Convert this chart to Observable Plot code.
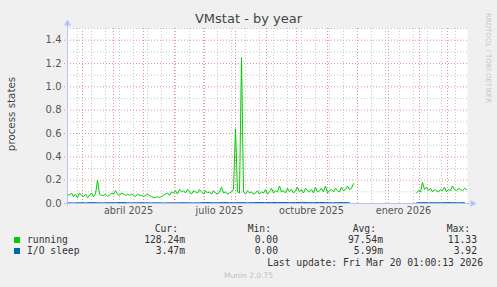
<!DOCTYPE html>
<html><head><meta charset="utf-8">
<script src="https://cdn.jsdelivr.net/npm/d3@7"></script>
<script src="https://cdn.jsdelivr.net/npm/@observablehq/plot@0.6"></script>
<style>
body{margin:0;background:#f0f0f0;}
#wrap{position:relative;width:497px;height:287px;overflow:hidden;background:#f0f0f0;font-family:"DejaVu Sans",sans-serif;}
#wrap svg{position:absolute;left:0;top:0;}
.t{position:absolute;white-space:pre;line-height:1;}
.mono{font-family:"DejaVu Sans Mono",monospace;font-size:9.7px;color:#333;}
</style></head><body><div id="wrap"></div>
<script>
// ---- data ----
const title = "VMstat - by year";
const yLabel = "process states";
const domainStart = "2025-02-14", domainEnd = "2026-03-21";
const yTicks = [0, 0.2, 0.4, 0.6, 0.8, 1.0, 1.2, 1.4];
const monthLabels = ["abril 2025", "julio 2025", "octubre 2025", "enero 2026"];
const monthLabelDates = ["2025-04-16", "2025-07-16", "2025-10-16", "2026-01-16"];

// running, segment 1: from 2025-02-14, one value every 2 days
const running1Start = "2025-02-14";
const running1 = [
 0.08,0.07,0.09,0.06,0.08,0.05,0.09,0.07,0.06,0.08,0.05,0.07,0.09,0.06,0.08,
 0.20,
 0.08,0.07,0.07,0.08,0.06,0.07,0.09,0.08,0.11,0.08,0.07,0.09,0.08,0.07,0.08,
 0.07,0.08,0.07,0.06,0.08,0.07,0.07,0.06,0.07,0.08,0.07,0.06,
 0.05,0.05,0.06,0.05,0.06,0.07,
 0.08,0.09,0.07,0.10,0.09,0.11,0.08,
 0.12,0.10,0.11,0.09,0.12,0.10,0.08,0.11,0.10,0.09,0.12,0.10,0.08,0.11,0.09,0.10,0.08,0.11,0.09,0.08,0.10,0.14,0.09,0.10,0.08,0.09,0.10,0.12,
 0.64,
 0.10,0.09,
 1.25,
 0.10,0.08,0.11,0.09,0.10,0.08,0.09,0.11,0.08,0.10,
 0.09,0.12,0.08,0.10,0.13,0.09,0.11,0.10,0.15,0.10,
 0.11,0.09,0.13,0.10,0.12,0.09,0.11,0.14,0.10,0.12,
 0.09,0.13,0.11,0.10,0.12,0.09,0.14,0.10,0.11,0.13,
 0.10,0.15,0.09,0.11,0.12,0.10,0.13,0.11,0.10,0.14,
 0.11,0.12,0.15,0.12,0.13,0.17
];
// running, segment 2: from 2026-01-29, every 2 days
const running2Start = "2026-01-29";
const running2 = [0.09,0.11,0.10,0.18,0.12,0.14,0.11,0.13,0.10,0.12,0.11,0.10,0.12,0.11,0.14,0.10,0.12,0.11,0.15,0.12,0.11,0.13,0.12,0.11,0.13,0.12];

// I/O sleep, every 6 days
const ioSleep1Start = "2025-02-14";
const ioSleep1 = [0.006,0.004,0.007,0.005,0.008,0.006,0.005,0.007,0.006,0.009,0.006,0.005,0.007,0.006,0.005,0.006,0.004,0.006,0.005,0.007,0.006,0.005,0.006,0.008,0.007,0.006,0.009,0.007,0.006,0.008,0.006,0.007,0.009,0.007,0.010,0.008,0.009,0.007,0.008,0.010,0.008,0.007,0.009,0.008,0.006,0.007,0.008,0.006];
const ioSleep2Start = "2026-01-29";
const ioSleep2 = [0.005,0.008,0.006,0.007,0.006,0.008,0.007,0.006,0.007];

const seriesNames = ["running", "I/O sleep"];
const seriesColors = ["#00cc00", "#0066b3"];
const curValues = ["128.24m", "3.47m"];
const minValues = ["0.00", "0.00"];
const avgValues = ["97.54m", "5.99m"];
const maxValues = ["11.33", "3.92"];
const lastUpdate = "Last update: Fri Mar 20 01:00:13 2026";
const footer = "Munin 2.0.75";
const sideText = "RRDTOOL / TOBI OETIKER";

// ---- build ----
const DAY = 864e5;
function seg(start, step, vals) {
  const t0 = Date.parse(start + "T00:00:00Z");
  return vals.map((v, i) => ({date: new Date(t0 + i * step * DAY), value: v}));
}
const r1 = seg(running1Start, 2, running1), r2 = seg(running2Start, 2, running2);
const b1 = seg(ioSleep1Start, 6, ioSleep1), b2 = seg(ioSleep2Start, 6, ioSleep2);

const x0 = new Date(domainStart + "T00:00:00Z"), x1 = new Date(domainEnd + "T00:00:00Z");
const monthLines = d3.utcMonth.range(new Date("2025-03-01T00:00:00Z"), x1);
const weekLines = d3.utcDay.range(new Date("2025-02-24T00:00:00Z"), x1, 14);
const yMinor = d3.range(1, 16, 2).map(d => d / 10);
const yMajor = d3.range(2, 15, 2).map(d => d / 10);
const labelDates = monthLabelDates.map(d => new Date(d + "T00:00:00Z"));

const axisColor = "#b8c2f0";
const chart = Plot.plot({
  width: 497, height: 287,
  marginLeft: 67, marginRight: 30, marginTop: 28, marginBottom: 84,
  style: {background: "transparent", fontFamily: "DejaVu Sans, sans-serif", overflow: "visible"},
  x: {type: "utc", domain: [x0, x1]},
  y: {domain: [0, 1.5]},
  marks: [
    Plot.frame({fill: "white", stroke: "none"}),
    Plot.ruleX(weekLines, {stroke: "#c8c8c8", strokeDasharray: "1,2", y1: 0, y2: 1.5}),
    Plot.ruleX(monthLines, {stroke: "#e89090", strokeDasharray: "1,2", y1: 0, y2: 1.5}),
    Plot.ruleY(yMinor, {stroke: "#c8c8c8", strokeDasharray: "1,2"}),
    Plot.ruleY(yMajor, {stroke: "#e89090", strokeDasharray: "1,2", insetLeft: -3}),
    Plot.axisY(yTicks, {tickSize: 0, tickPadding: 6, tickFormat: d3.format(".1f"), fontSize: 10, fill: "#555", label: null}),
    Plot.axisX(labelDates, {tickSize: 0, tickPadding: 4, tickFormat: (d, i) => monthLabels[i], fontSize: 9.7, fill: "#555", label: null}),
    Plot.line(r1, {x: "date", y: "value", stroke: seriesColors[0], strokeWidth: 1}),
    Plot.line(r2, {x: "date", y: "value", stroke: seriesColors[0], strokeWidth: 1}),
    Plot.line(b1, {x: "date", y: "value", stroke: seriesColors[1], strokeWidth: 1}),
    Plot.line(b2, {x: "date", y: "value", stroke: seriesColors[1], strokeWidth: 1}),
    Plot.ruleY([0], {stroke: axisColor, insetLeft: -3, insetRight: -3}),
    Plot.ruleX([x0], {stroke: axisColor, insetTop: -4, insetBottom: -3}),
    Plot.dot([0], {frameAnchor: "top-left", dy: -5, symbol: "triangle", r: 2.6, fill: axisColor, stroke: "none"}),
    Plot.dot([0], {frameAnchor: "bottom-right", dx: 5, symbol: "triangle", r: 2.6, rotate: 90, fill: axisColor, stroke: "none"})
  ]
});
const wrap = document.getElementById("wrap");
wrap.appendChild(chart);

function txt(s, opts) {
  const d = document.createElement("div");
  d.className = "t" + (opts.cls ? " " + opts.cls : "");
  d.textContent = s;
  Object.assign(d.style, opts.style || {});
  wrap.appendChild(d);
  return d;
}
txt(title, {style: {left: "0", width: "497px", textAlign: "center", top: "12px", fontSize: "13px", color: "#444"}});
txt(yLabel, {style: {left: "11px", top: "114px", fontSize: "10.3px", color: "#444", transform: "translate(-50%,-50%) rotate(-90deg)"}});
txt(sideText, {style: {left: "487px", top: "58px", fontSize: "7px", color: "#c8c8c8", transform: "translate(-50%,-50%) rotate(90deg)"}});

const cols = [["Cur:", curValues, 185], ["Min:", minValues, 278], ["Avg:", avgValues, 383], ["Max:", maxValues, 477]];
const rowY = [235, 246];
cols.forEach(([h, vals, right]) => {
  txt(h, {cls: "mono", style: {right: (497 - right + 7) + "px", top: "224px"}});
  vals.forEach((v, i) => txt(v, {cls: "mono", style: {right: (497 - right) + "px", top: rowY[i] + "px"}}));
});
seriesNames.forEach((n, i) => {
  const sq = document.createElement("div");
  Object.assign(sq.style, {position: "absolute", left: "14px", top: (rowY[i] + 2) + "px", width: "6px", height: "6px", background: seriesColors[i]});
  wrap.appendChild(sq);
  txt(n, {cls: "mono", style: {left: "27px", top: rowY[i] + "px"}});
});
txt(lastUpdate, {cls: "mono", style: {right: "14px", top: "258px"}});
txt(footer, {style: {left: "0", width: "497px", textAlign: "center", top: "272px", fontSize: "7.5px", color: "#c0c0c0"}});
</script></body></html>
